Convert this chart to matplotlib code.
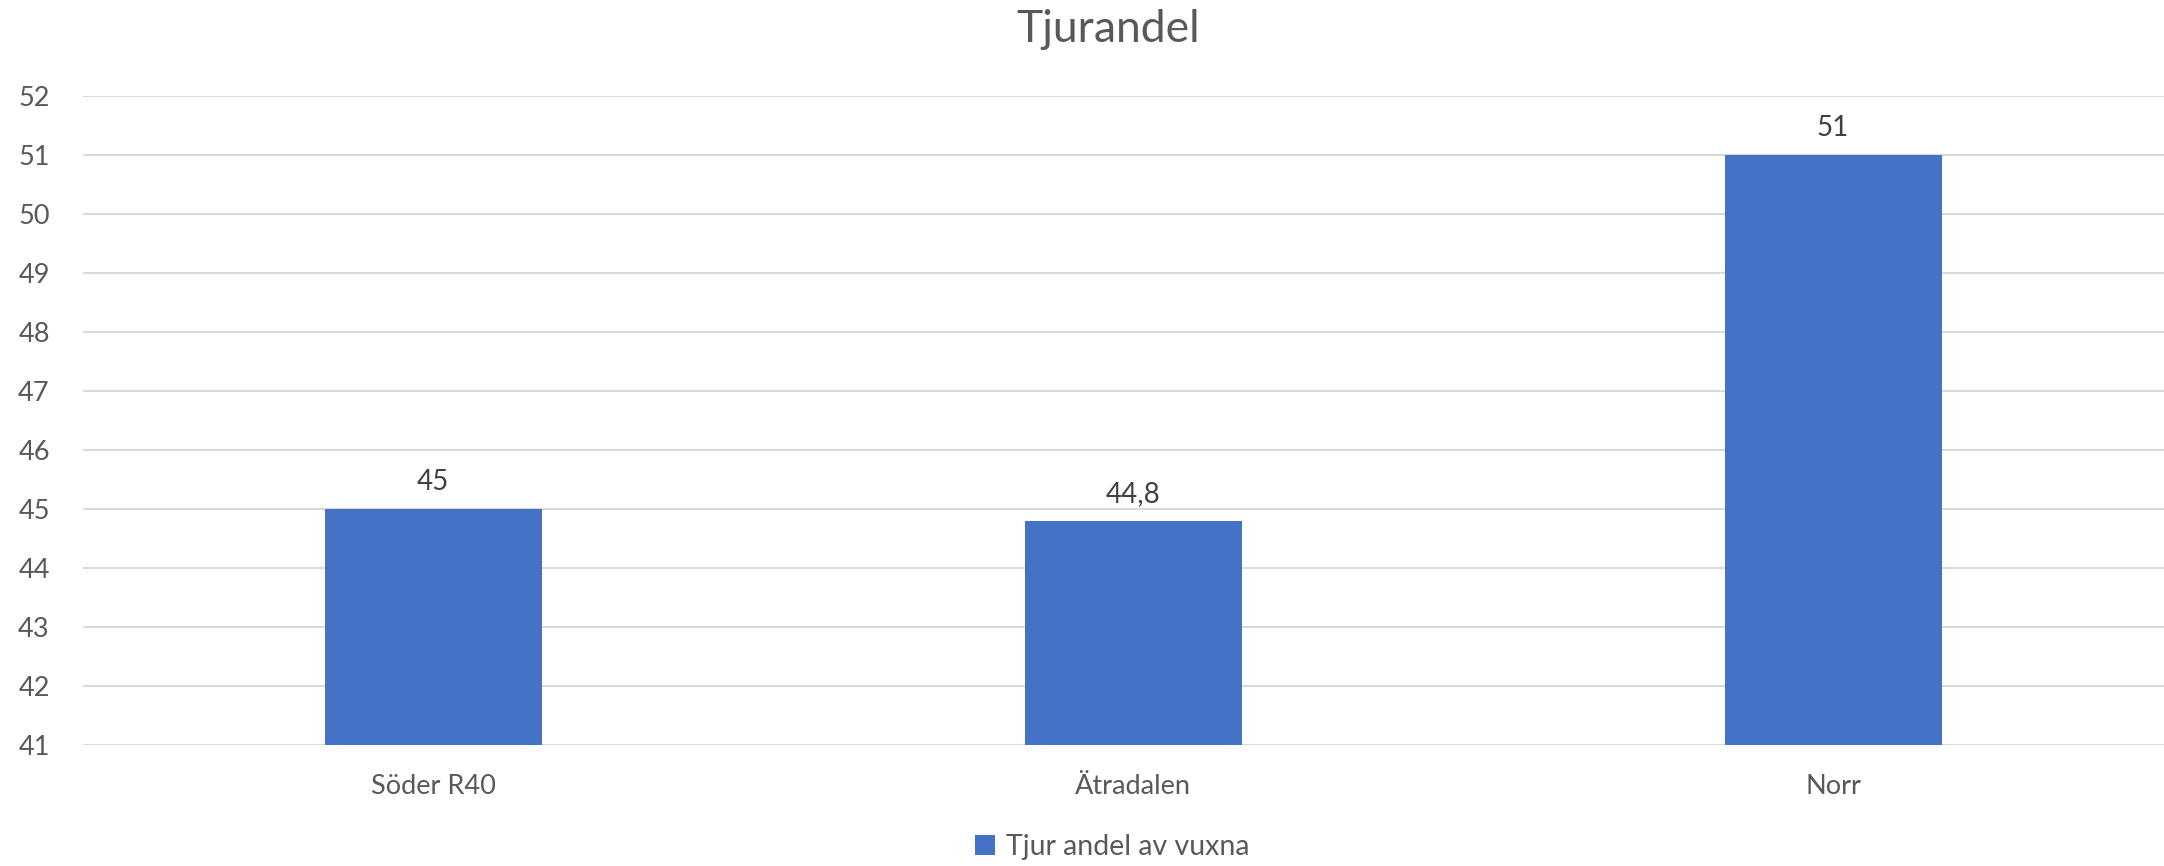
from matplotlib import pyplot as plt

categories = ["Söder R40", "Ätradalen", "Norr"]
values = [45, 44.8, 51]
value_labels = ["45", "44,8", "51"]
series_name = "Tjur andel av vuxna"
title = "Tjurandel"
y_ticks = list(range(41, 53))

BAR_COLOR = "#4472C4"
GRID_COLOR = "#D9D9D9"
TEXT_COLOR = "#595959"


def main():
    plt.rcParams["font.family"] = ["Lato", "DejaVu Sans"]
    fig = plt.figure(figsize=(21.64, 8.66), dpi=100)
    ax = fig.add_axes([0.0384, 0.1397, 0.9704, 0.7494])

    positions = list(range(len(categories)))
    bars = ax.bar(positions, values, width=0.31, color=BAR_COLOR,
                  label=series_name, zorder=2)

    for bar, text in zip(bars, value_labels):
        ax.annotate(text, (bar.get_x() + bar.get_width() / 2, bar.get_height()),
                    xytext=(0, 10), textcoords="offset points",
                    ha="center", va="bottom", fontsize=20, color="#404040")

    ax.set_xlim(-0.5, len(categories) - 0.5)
    ax.set_ylim(y_ticks[0], y_ticks[-1])
    ax.set_yticks(y_ticks)
    ax.set_xticks(positions)
    ax.set_xticklabels(categories)
    ax.tick_params(axis="both", length=0, labelsize=19.5, labelcolor=TEXT_COLOR)
    ax.tick_params(axis="y", pad=24)
    ax.tick_params(axis="x", pad=21)
    ax.grid(axis="y", color=GRID_COLOR, linewidth=1.5, zorder=0)
    for spine in ax.spines.values():
        spine.set_visible(False)

    fig.suptitle(title, x=0.512, y=0.99, fontsize=32, color=TEXT_COLOR)
    fig.legend(loc="center", bbox_to_anchor=(0.514, 0.022), frameon=False,
               fontsize=20.5, labelcolor=TEXT_COLOR, handlelength=0.7,
               handleheight=0.7, handletextpad=0.4)

    fig.savefig("out.png", dpi=100)


if __name__ == "__main__":
    main()
